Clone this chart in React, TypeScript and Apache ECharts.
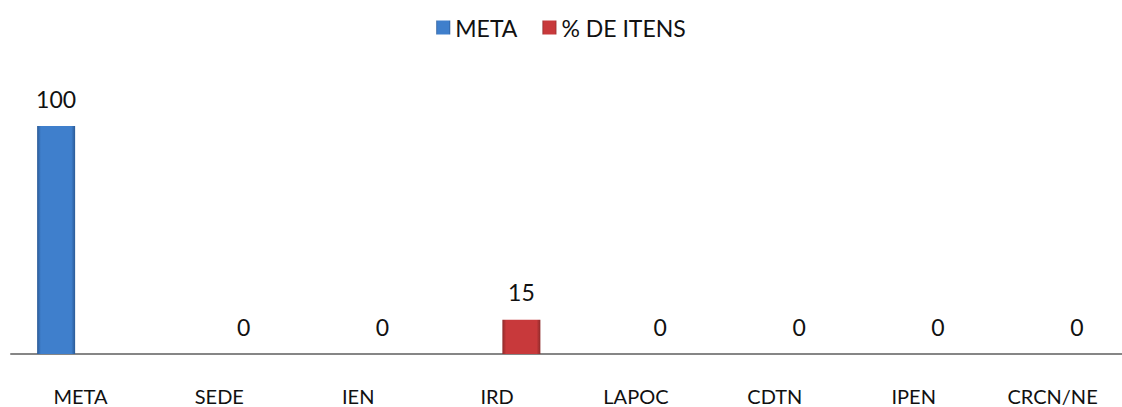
import React, { useEffect, useRef } from "react";
import * as echarts from "echarts";

const categories = ["META", "SEDE", "IEN", "IRD", "LAPOC", "CDTN", "IPEN", "CRCN/NE"];
const metaValues: (number | null)[] = [100, null, null, null, null, null, null, null];
const itensValues: (number | null)[] = [null, 0, 0, 15, 0, 0, 0, 0];
const seriesNames = ["META", "% DE ITENS"];

const FONT = "Lato";

function barGradient(edge: string, mid: string) {
  return new echarts.graphic.LinearGradient(0, 0, 1, 0, [
    { offset: 0, color: edge },
    { offset: 0.1, color: mid },
    { offset: 0.9, color: mid },
    { offset: 1, color: edge },
  ]);
}

export default function App() {
  const ref = useRef<HTMLDivElement>(null);
  useEffect(() => {
    if (!ref.current) return;
    const chart = echarts.init(ref.current, null, { renderer: "svg" });
    const labelCfg = {
      show: true,
      position: "top" as const,
      distance: 16,
      fontFamily: FONT,
      fontSize: 23,
      color: "#111",
    };
    chart.setOption({
      animation: false,
      backgroundColor: "#ffffff",
      legend: {
        top: 11,
        left: "center",
        itemWidth: 14,
        itemHeight: 14,
        itemGap: 25,
        icon: "rect",
        textStyle: { fontFamily: FONT, fontSize: 23, color: "#111" },
        data: seriesNames,
      },
      grid: { left: 11, width: 1120, top: 80.4, bottom: 53 },
      xAxis: {
        type: "category",
        data: categories,
        axisLine: { show: true, lineStyle: { color: "#868686", width: 2 } },
        axisTick: { show: false },
        axisLabel: {
          fontFamily: FONT,
          fontSize: 20,
          lineHeight: 20,
          color: "#111",
          margin: 32,
        },
      },
      yAxis: {
        type: "value",
        min: 0,
        max: 120,
        show: false,
        splitLine: { show: false },
      },
      series: [
        {
          name: seriesNames[0],
          type: "bar",
          data: metaValues,
          barWidth: 38,
          barGap: "28%",
          color: "#3f7fcc",
          itemStyle: {
            color: barGradient("#2b5a96", "#3f7fcc"),
            borderWidth: 0,
          },
          label: labelCfg,
        },
        {
          name: seriesNames[1],
          type: "bar",
          data: itensValues,
          barWidth: 38,
          barGap: "28%",
          color: "#c0383a",
          itemStyle: {
            color: barGradient("#8e2a2a", "#c8393b"),
            borderWidth: 0,
          },
          label: labelCfg,
        },
      ],
    });
    return () => chart.dispose();
  }, []);
  return (
    <div
      ref={ref}
      style={{ position: "fixed", left: 0, top: 0, width: 1122, height: 407 }}
    />
  );
}
